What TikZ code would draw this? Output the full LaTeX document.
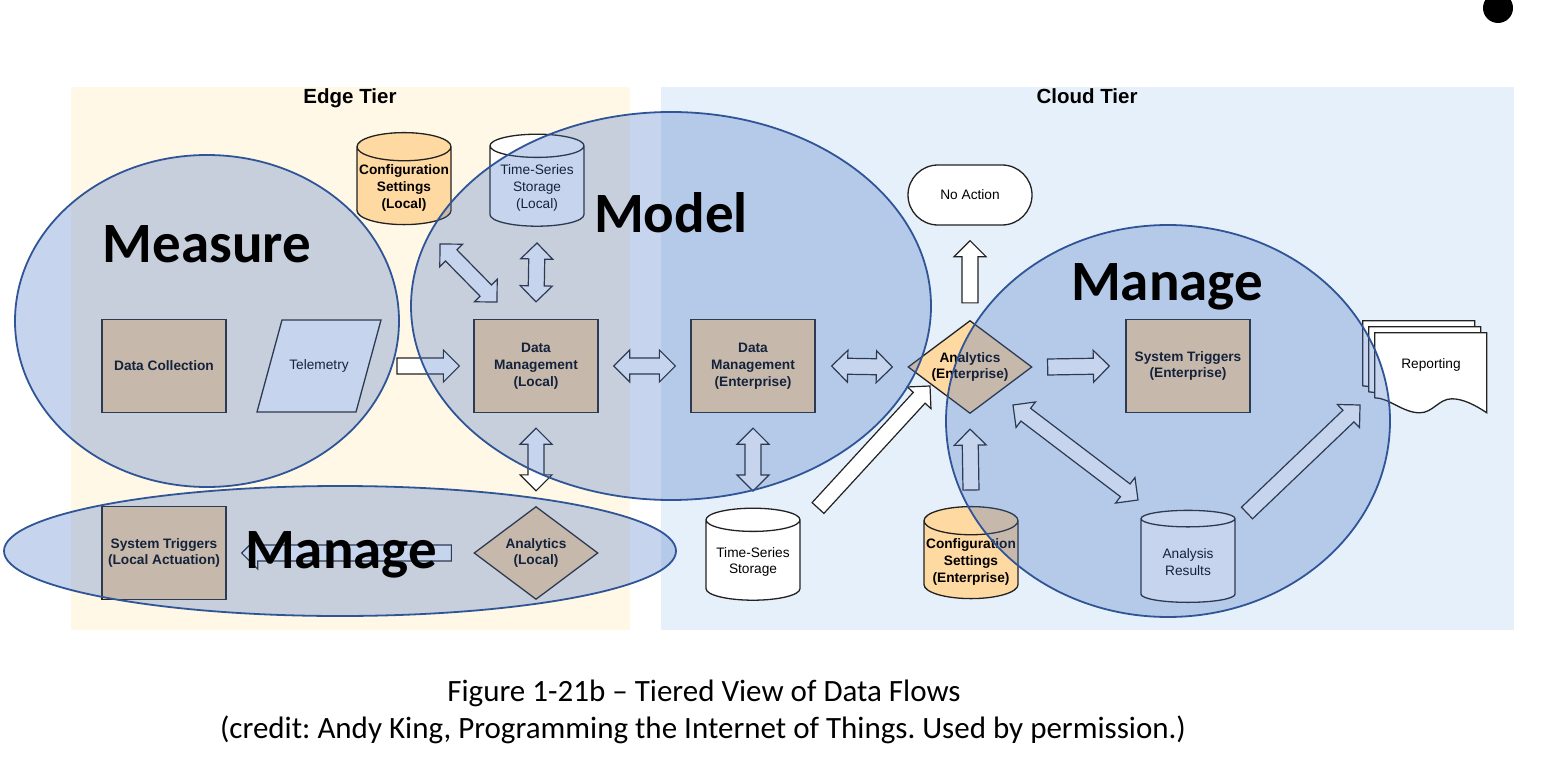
\documentclass[tikz,border=0pt]{standalone}
\usepackage{fontspec}
\setsansfont{Liberation Sans}
\newfontfamily\calfont{Carlito}
\usetikzlibrary{calc,shapes.geometric}
\frenchspacing

\definecolor{edgebg}{HTML}{FFF8E6}
\definecolor{cloudbg}{HTML}{E6F0FA}
\definecolor{boxfill}{HTML}{FFD9A2}
\definecolor{zonefill}{HTML}{4472C4}
\definecolor{zoneline}{HTML}{2F5597}
\definecolor{ink}{HTML}{222222}

\tikzset{
  base/.style={draw=ink, line width=1.3pt, align=center, inner sep=2pt,
    font=\sffamily\fontsize{13.7}{16.8}\selectfont},
  bold/.style={font=\sffamily\bfseries\fontsize{13.7}{16.8}\selectfont},
  proc/.style={base, bold, rectangle, fill=boxfill, minimum width=124pt, minimum height=93pt},
  store/.style={base, cylinder, shape border rotate=90, aspect=0.3,
    minimum width=94pt, minimum height=92pt, fill=white},
  decide/.style={base, bold, diamond, aspect=1.33, minimum width=124pt,
    minimum height=93pt, inner sep=0pt, fill=boxfill},
  term/.style={base, rectangle, rounded corners=30pt, minimum width=124pt,
    minimum height=60pt, fill=white},
  fat/.style={draw=ink, line width=1.2pt, fill=white},
  zone/.style={fill=zonefill, fill opacity=0.3, draw=zoneline, line width=1.8pt},
  zonelbl/.style={font=\calfont\bfseries\fontsize{57}{57}\selectfont, anchor=base},
  tierlbl/.style={font=\sffamily\bfseries\fontsize{20.5}{20.5}\selectfont, anchor=base},
  caplbl/.style={font=\calfont\fontsize{31}{31}\selectfont, anchor=base}
}

% block arrows between two points
\newcommand\fatone[3][]{%
  \path (#2) coordinate (s); \path (#3) coordinate (e);
  \path ($(e)!16pt!(s)$) coordinate (h);
  \draw[fat,#1] ($(s)!8pt!90:(e)$) -- ($(h)!8pt!90:(e)$) -- ($(h)!16pt!90:(e)$) -- (e)
    -- ($(h)!16pt!-90:(e)$) -- ($(h)!8pt!-90:(e)$) -- ($(s)!8pt!-90:(e)$) -- cycle;}
\newcommand\fattwo[3][]{%
  \path (#2) coordinate (s); \path (#3) coordinate (e);
  \path ($(e)!16pt!(s)$) coordinate (h); \path ($(s)!16pt!(e)$) coordinate (k);
  \draw[fat,#1] (s) -- ($(k)!16pt!90:(e)$) -- ($(k)!8pt!90:(e)$) -- ($(h)!8pt!90:(e)$)
    -- ($(h)!16pt!90:(e)$) -- (e) -- ($(h)!16pt!-90:(e)$) -- ($(h)!8pt!-90:(e)$)
    -- ($(k)!8pt!-90:(e)$) -- ($(k)!16pt!-90:(e)$) -- cycle;}

\begin{document}
\begin{tikzpicture}[x=1pt,y=-1pt]
  \useasboundingbox (0,0) rectangle (1552,770);
  \fill[edgebg] (71,87) rectangle (630,630);
  \fill[cloudbg] (661,87) rectangle (1514,630);
  \fill (1498,8) circle (15pt);
  \node[tierlbl] (ledge) at (350,104) {Edge Tier};
  \node[tierlbl] (lcloud) at (1087,104) {Cloud Tier};

  % edge tier
  \node[store, fill=boxfill, bold] (cfgl) at (404,188) {Configuration\\Settings\\(Local)};
  \node[store] (tsl) at (537,188) {Time-Series\\Storage\\(Local)};
  \node[proc] (dcol) at (164,366) {Data Collection};
  \coordinate (tpos) at (319,366);
  \draw[base, fill=white] ($(tpos)+(-62,46)$) -- ($(tpos)+(-37,-46)$)
    -- ($(tpos)+(62,-46)$) -- ($(tpos)+(37,46)$) -- cycle;
  \node[base, draw=none, minimum width=124pt, minimum height=93pt] (telem) at (tpos) {Telemetry};
  \node[proc] (dml) at (536,366) {Data\\Management\\(Local)};
  \node[proc] (stl) at (164,553) {System Triggers\\(Local Actuation)};
  \node[decide] (anal) at (536,553) {Analytics\\(Local)};

  % cloud tier
  \node[proc] (dme) at (753,366) {Data\\Management\\(Enterprise)};
  \node[decide] (anae) at (970,367) {Analytics\\(Enterprise)};
  \node[term] (noact) at (970,195) {No Action};
  \node[proc] (ste) at (1188,366) {System Triggers\\(Enterprise)};
  \node[store] (tss) at (753,562) {Time-Series\\Storage};
  \node[store, fill=boxfill, bold] (cfge) at (971,562) {Configuration\\Settings\\(Enterprise)};
  \node[store] (anr) at (1188,562) {Analysis\\Results};
  \node[minimum width=112pt, minimum height=80pt, inner sep=0pt] (rep) at (1431,373) {};
  \foreach \d in {12,6,0}
    \draw[base, fill=white, shift={($(rep.north west)+(-\d,-\d)$)}]
      (0,0) -- (112,0) -- (112,80) .. controls (100,72) and (88,66) .. (77,66)
      .. controls (64,66) and (58,80) .. (45,80) .. controls (28,80) and (14,65) .. (0,65) -- cycle;
  \node[font=\sffamily\fontsize{13.7}{16.8}\selectfont] (reptxt) at ($(rep.center)+(0,-8)$) {Reporting};

  % flows
  \fatone{$(telem.center)+(78,0)$}{$(dml.west)+(-14,0)$}
  \fattwo{$(dml.east)+(15,0)$}{$(dme.west)+(-15,0)$}
  \fattwo{$(dme.east)+(16,0)$}{$(anae.west)+(-15,0)$}
  \fatone{$(anae.east)+(15,0)$}{$(ste.west)+(-16,0)$}
  \fattwo{$(cfgl.center)+(36,56)$}{$(dml.center)+(-39,-64)$}
  \fattwo{$(tsl.center)+(0,55)$}{$(dml.north)+(0,-17)$}
  \fattwo{$(dml.south)+(0,15)$}{$(anal.north)+(0,-15)$}
  \fattwo{$(dme.south)+(0,15)$}{$(tss.center)+(0,-71)$}
  \fatone{$(tss.center)+(65,-54)$}{$(anae.center)+(-40,19)$}
  \fatone{$(cfge.center)+(0,-72)$}{$(anae.south)+(0,15)$}
  \fatone{$(anae.north)+(0,-17)$}{$(noact.south)+(0,15)$}
  \fattwo{$(anae.center)+(43,38)$}{$(anr.center)+(-50,-62)$}
  \fatone{$(anr.center)+(59,-49)$}{$(rep.center)+(-71,32)$}
  \fatone{$(anal.west)+(-22,0)$}{$(stl.east)+(15,0)$}

  % overlays
  \draw[zone] (207,321) ellipse [x radius=192pt, y radius=166pt];
  \draw[zone] (671,306) ellipse [x radius=260pt, y radius=194pt];
  \draw[zone] (1168,421) ellipse [x radius=222pt, y radius=196pt];
  \draw[zone] (340,551) ellipse [x radius=336pt, y radius=65pt];
  \node[zonelbl] (lmeasure) at (207,262) {Measure};
  \node[zonelbl] (lmodel) at (671,232) {Model};
  \node[zonelbl] (lmanage) at (1167,300) {Manage};
  \node[zonelbl] (lmanageb) at (341,568) {Manage};

  \node[caplbl] (cap1) at (704,701) {Figure 1-21b – Tiered View of Data Flows};
  \node[caplbl] (cap2) at (703,738) {(credit: Andy King, Programming the Internet of Things. Used by permission.)};
\end{tikzpicture}
\end{document}
